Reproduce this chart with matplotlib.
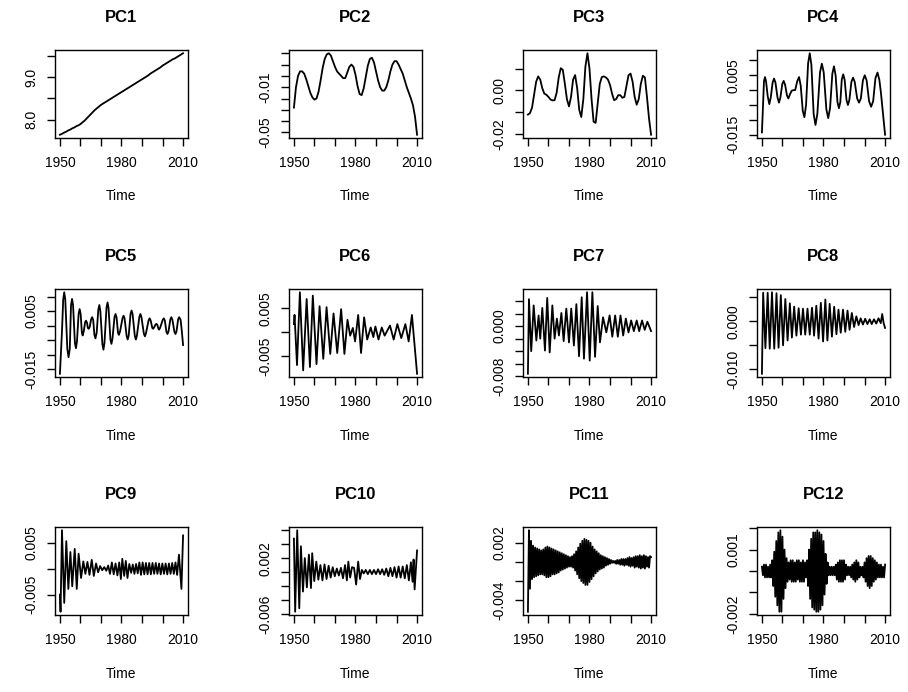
import numpy as np
import matplotlib
matplotlib.use("Agg")
import matplotlib.pyplot as plt

plt.rcParams["font.family"] = ["Liberation Sans", "DejaVu Sans"]

# annual series (1950..2010)
years = list(range(1950, 2011))
pc1 = [7.65, 7.67, 7.70, 7.72, 7.75, 7.77, 7.80, 7.82, 7.85, 7.87,
       7.90, 7.94, 7.98, 8.03, 8.08, 8.13, 8.18, 8.23, 8.27, 8.31,
       8.35, 8.38, 8.41, 8.44, 8.47, 8.50, 8.53, 8.56, 8.59, 8.62,
       8.65, 8.68, 8.71, 8.74, 8.77, 8.80, 8.83, 8.86, 8.89, 8.92,
       8.95, 8.98, 9.01, 9.04, 9.08, 9.11, 9.14, 9.17, 9.20, 9.23,
       9.27, 9.30, 9.33, 9.36, 9.39, 9.42, 9.44, 9.47, 9.50, 9.53, 9.56]
pc2 = [-0.028, -0.010, 0.000, 0.004, 0.004, 0.002, -0.003, -0.009, -0.015, -0.019,
       -0.021, -0.020, -0.014, -0.004, 0.007, 0.015, 0.019, 0.020, 0.018, 0.013,
       0.008, 0.004, 0.002, 0.000, -0.002, -0.002, 0.003, 0.008, 0.010, 0.008,
       0.001, -0.009, -0.016, -0.017, -0.011, -0.001, 0.009, 0.015, 0.016, 0.012,
       0.004, -0.004, -0.010, -0.013, -0.013, -0.010, -0.004, 0.004, 0.010, 0.013,
       0.013, 0.010, 0.006, 0.002, -0.004, -0.010, -0.015, -0.020, -0.026, -0.036, -0.052]
pc3 = [-0.0112, -0.0105, -0.0080, -0.0020, 0.0040, 0.0065, 0.0050, 0.0010, -0.0015, -0.0020,
       -0.0030, -0.0042, -0.0046, -0.0045, -0.0010, 0.0060, 0.0103, 0.0095, 0.0030, -0.0040,
       -0.0074, -0.0030, 0.0050, 0.0071, 0.0010, -0.0090, -0.0123, -0.0040, 0.0110, 0.0172,
       0.0100, -0.0040, -0.0145, -0.0150, -0.0060, 0.0030, 0.0062, 0.0065, 0.0060, 0.0050,
       0.0025, -0.0015, -0.0045, -0.0040, -0.0022, -0.0022, -0.0034, -0.0030, 0.0020, 0.0070,
       0.0078, 0.0040, -0.0030, -0.0066, -0.0040, 0.0030, 0.0068, 0.0060, -0.0030, -0.0130, -0.0205]

# points (time, value)
t4 = [1950.0, 1950.6, 1951.0, 1951.5, 1952.0, 1952.8, 1953.6, 1954.3, 1955.2, 1955.9,
      1956.6, 1957.6, 1958.3, 1959.0, 1959.9, 1960.6, 1961.3, 1962.2, 1962.9, 1963.6,
      1964.5, 1965.3, 1966.2, 1967.2, 1968.1, 1968.9, 1969.9, 1970.7, 1971.5, 1972.5,
      1973.3, 1974.1, 1975.2, 1976.1, 1977.0, 1978.3, 1979.2, 1980.1, 1981.4, 1982.3,
      1983.2, 1984.3, 1985.1, 1985.9, 1986.8, 1987.5, 1988.2, 1988.9, 1989.6, 1990.3,
      1991.2, 1991.9, 1992.6, 1993.6, 1994.4, 1995.2, 1996.4, 1997.3, 1998.2, 1999.2,
      2000.1, 2001.0, 2002.2, 2003.2, 2004.2, 2005.3, 2006.3, 2007.2, 2008.0, 2009.0, 2010.0]
pc4 = [-0.0142, -0.0040, 0.0030, 0.0044, 0.0030, -0.0020, -0.0047, -0.0025, 0.0025, 0.0039,
       0.0025, -0.0025, -0.0042, -0.0025, 0.0020, 0.0031, 0.0018, -0.0018, -0.0028, -0.0015,
       -0.0002, 0.0000, 0.0000, 0.0030, 0.0044, 0.0015, -0.0070, -0.0091, -0.0050, 0.0090,
       0.0124, 0.0085, -0.0080, -0.0117, -0.0080, 0.0060, 0.0089, 0.0060, -0.0065, -0.0094,
       -0.0060, 0.0055, 0.0080, 0.0050, -0.0040, -0.0061, -0.0040, 0.0035, 0.0053, 0.0035,
       -0.0033, -0.0050, -0.0033, 0.0028, 0.0042, 0.0028, -0.0028, -0.0042, -0.0028, 0.0033,
       0.0050, 0.0033, -0.0037, -0.0056, -0.0037, 0.0040, 0.0059, 0.0035, -0.0010, -0.0080, -0.0150]

t5 = [1950.0, 1951.0, 1951.6, 1952.1, 1952.6, 1953.6, 1954.2, 1954.8, 1955.4, 1955.9,
      1956.4, 1957.3, 1957.8, 1958.3, 1959.1, 1959.6, 1960.1, 1960.7, 1961.1, 1961.6,
      1962.3, 1962.7, 1963.2, 1963.6, 1964.0, 1964.5, 1965.2, 1965.7, 1966.2, 1966.8,
      1967.3, 1967.9, 1968.7, 1969.2, 1969.7, 1970.7, 1971.2, 1971.7, 1972.7, 1973.2,
      1973.7, 1974.6, 1975.1, 1975.6, 1976.6, 1977.1, 1977.6, 1978.3, 1978.7, 1979.3,
      1980.5, 1981.0, 1981.5, 1982.5, 1983.0, 1983.5, 1984.4, 1984.9, 1985.4, 1986.5,
      1987.0, 1987.5, 1988.7, 1989.2, 1989.7, 1990.9, 1991.4, 1991.9, 1993.2, 1993.7,
      1994.2, 1995.0, 1995.4, 1995.9, 1996.6, 1997.0, 1997.5, 1998.0, 1998.3, 1998.8,
      2000.1, 2000.6, 2001.1, 2001.9, 2002.4, 2002.9, 2003.8, 2004.3, 2004.8, 2005.8,
      2006.3, 2006.8, 2007.6, 2008.1, 2008.8, 2009.4, 2010.0]
pc5 = [-0.0166, -0.0020, 0.0090, 0.0115, 0.0090, -0.0080, -0.0109, -0.0080, 0.0070, 0.0092,
       0.0070, -0.0060, -0.0078, -0.0055, 0.0040, 0.0057, 0.0040, -0.0025, -0.0034, -0.0020,
       0.0012, 0.0017, 0.0010, -0.0008, -0.0011, -0.0005, 0.0022, 0.0029, 0.0020, -0.0032,
       -0.0044, -0.0025, 0.0055, 0.0071, 0.0050, -0.0065, -0.0083, -0.0060, 0.0062, 0.0080,
       0.0060, -0.0048, -0.0063, -0.0045, 0.0030, 0.0040, 0.0028, -0.0025, -0.0032, -0.0020,
       0.0026, 0.0034, 0.0025, -0.0036, -0.0048, -0.0035, 0.0040, 0.0052, 0.0040, -0.0036,
       -0.0048, -0.0035, 0.0030, 0.0040, 0.0030, -0.0028, -0.0037, -0.0027, 0.0018, 0.0025,
       0.0018, -0.0008, -0.0011, -0.0006, 0.0004, 0.0006, 0.0002, -0.0011, -0.0014, -0.0008,
       0.0020, 0.0025, 0.0018, -0.0022, -0.0029, -0.0020, 0.0022, 0.0029, 0.0020, -0.0022,
       -0.0029, -0.0020, 0.0022, 0.0029, 0.0020, -0.0020, -0.0067]

t6 = [1950.0, 1950.3, 1951.5, 1952.9, 1954.5, 1956.2, 1957.8, 1959.2, 1961.0, 1962.5,
      1964.3, 1965.9, 1967.7, 1969.3, 1971.1, 1973.0, 1974.6, 1976.1, 1977.4, 1978.7,
      1979.8, 1981.3, 1982.7, 1984.2, 1985.7, 1987.4, 1988.7, 1989.7, 1991.2, 1992.8,
      1994.2, 1996.8, 1998.6, 2000.4, 2002.3, 2004.3, 2005.9, 2007.5, 2010.0]
pc6 = [0.0017, 0.0036, -0.0068, 0.0083, -0.0079, 0.0069, -0.0072, 0.0076, -0.0066, 0.0054,
       -0.0055, 0.0052, -0.0045, 0.0039, -0.0043, 0.0048, -0.0045, 0.0026, -0.0007, 0.0009,
       -0.0019, 0.0036, -0.0043, 0.0031, -0.0015, 0.0010, -0.0010, 0.0012, -0.0015, 0.0010,
       -0.0007, 0.0014, -0.0015, 0.0017, -0.0012, 0.0017, -0.0019, 0.0036, -0.0086]

t7 = [1950.0, 1950.5, 1951.6, 1952.8, 1954.1, 1955.2, 1956.0, 1957.0, 1958.3, 1959.4,
      1960.6, 1961.9, 1963.0, 1964.1, 1965.1, 1966.3, 1967.4, 1968.7, 1970.0, 1971.1,
      1972.4, 1973.6, 1974.9, 1976.2, 1977.3, 1978.8, 1980.1, 1981.4, 1982.7, 1984.0,
      1985.1, 1986.6, 1988.2, 1989.8, 1991.1, 1992.5, 1993.8, 1995.1, 1996.4, 1997.7,
      1999.0, 2000.3, 2001.6, 2003.0, 2004.2, 2005.6, 2006.9, 2008.2, 2010.0]
pc7 = [-0.0076, 0.0043, -0.0040, 0.0033, -0.0023, 0.0017, -0.0020, 0.0029, -0.0039, 0.0045,
       -0.0042, 0.0033, -0.0020, 0.0012, -0.0015, 0.0021, -0.0024, 0.0028, -0.0026, 0.0028,
       -0.0031, 0.0035, -0.0048, 0.0046, -0.0052, 0.0054, -0.0055, 0.0054, -0.0049, 0.0032,
       -0.0026, 0.0014, -0.0010, 0.0017, -0.0017, 0.0017, -0.0017, 0.0017, -0.0015, 0.0012,
       -0.0010, 0.0009, -0.0008, 0.0009, -0.0008, 0.0009, -0.0006, 0.0007, -0.0008]

t8 = [1950.0, 1950.6, 1951.7, 1952.8, 1953.8, 1954.9, 1956.0, 1957.1, 1958.1, 1959.2,
      1960.3, 1961.4, 1962.5, 1963.6, 1964.6, 1965.7, 1966.8, 1967.9, 1969.0, 1970.0,
      1971.1, 1972.2, 1973.3, 1974.4, 1975.4, 1976.5, 1977.6, 1978.7, 1979.8, 1980.9,
      1981.9, 1983.0, 1984.1, 1985.2, 1986.3, 1987.3, 1988.4, 1989.5, 1990.6, 1991.7,
      1992.7, 1993.8, 1994.9, 1996.0, 1997.1, 1998.1, 1999.2, 2000.3, 2001.4, 2002.5,
      2003.5, 2004.6, 2005.7, 2006.8, 2007.9, 2008.6, 2009.3, 2010.0]
pc8 = [-0.0109, 0.0059, -0.0056, 0.0059, -0.0057, 0.0060, -0.0057, 0.0058, -0.0055, 0.0054,
       -0.0050, 0.0046, -0.0040, 0.0037, -0.0034, 0.0030, -0.0030, 0.0027, -0.0028, 0.0026,
       -0.0028, 0.0026, -0.0028, 0.0028, -0.0030, 0.0032, -0.0036, 0.0038, -0.0042, 0.0045,
       -0.0040, 0.0036, -0.0032, 0.0030, -0.0027, 0.0024, -0.0024, 0.0024, -0.0022, 0.0022,
       -0.0018, 0.0017, -0.0012, 0.0010, -0.0008, 0.0006, -0.0007, 0.0005, -0.0006, 0.0004,
       -0.0006, 0.0004, -0.0005, 0.0006, -0.0004, 0.0015, -0.0004, -0.0014]

t9 = [1950.0, 1950.3, 1951.0, 1952.1, 1953.1, 1954.1, 1955.1, 1956.0, 1957.2, 1958.2,
      1959.1, 1960.3, 1961.4, 1962.4, 1963.4, 1964.4, 1965.5, 1966.5, 1967.6, 1968.6,
      1969.6, 1970.6, 1971.6, 1972.6, 1973.5, 1974.4, 1975.3, 1976.2, 1977.1, 1978.0,
      1978.9, 1979.7, 1980.4, 1981.3, 1982.1, 1982.9, 1983.8, 1984.7, 1985.5, 1986.3,
      1987.1, 1987.9, 1988.7, 1989.5, 1990.3, 1991.1, 1991.9, 1992.7, 1993.5, 1994.3,
      1995.1, 1995.9, 1996.7, 1997.5, 1998.3, 1999.1, 1999.9, 2000.7, 2001.5, 2002.3,
      2003.1, 2003.9, 2004.7, 2005.5, 2006.3, 2007.1, 2008.0, 2009.2, 2010.0]
pc9 = [-0.0050, -0.0083, 0.0074, -0.0066, 0.0053, -0.0039, 0.0032, -0.0034, 0.0038, -0.0039,
       0.0029, -0.0018, 0.0014, -0.0010, 0.0013, -0.0012, 0.0017, -0.0014, 0.0010, -0.0007,
       0.0005, -0.0003, 0.0003, -0.0004, 0.0006, -0.0010, 0.0012, -0.0011, 0.0010, -0.0013,
       0.0012, -0.0020, 0.0019, -0.0014, 0.0015, -0.0018, 0.0009, -0.0008, 0.0008, -0.0010,
       0.0009, -0.0009, 0.0012, -0.0012, 0.0012, -0.0011, 0.0011, -0.0011, 0.0011, -0.0011,
       0.0011, -0.0010, 0.0011, -0.0010, 0.0010, -0.0011, 0.0010, -0.0010, 0.0010, -0.0011,
       0.0010, -0.0010, 0.0011, -0.0010, 0.0012, -0.0012, 0.0027, -0.0039, 0.0064]

t10 = [1950.0, 1950.6, 1951.6, 1952.6, 1953.4, 1954.4, 1955.3, 1956.3, 1957.3, 1958.3,
       1958.9, 1959.9, 1960.9, 1961.9, 1962.9, 1963.9, 1964.9, 1965.9, 1966.9, 1967.9,
       1968.9, 1969.9, 1970.9, 1971.9, 1972.9, 1973.9, 1974.9, 1975.8, 1976.5, 1977.4,
       1978.3, 1979.3, 1980.3, 1981.3, 1982.2, 1983.1, 1984.0, 1985.0, 1986.0, 1987.0,
       1988.0, 1989.0, 1990.0, 1991.0, 1992.0, 1993.0, 1994.0, 1995.0, 1996.0, 1997.0,
       1998.0, 1999.0, 2000.0, 2001.0, 2002.0, 2003.0, 2004.0, 2005.0, 2006.0, 2007.0,
       2007.8, 2008.3, 2008.8, 2010.0]
pc10 = [0.0048, -0.0057, 0.0060, -0.0052, 0.0037, -0.0028, 0.0020, -0.0022, 0.0025, -0.0023,
        0.0027, -0.0013, 0.0015, -0.0011, 0.0010, -0.0012, 0.0011, -0.0010, 0.0009, -0.0008,
        0.0007, -0.0006, 0.0005, -0.0005, 0.0006, -0.0009, 0.0010, -0.0012, 0.0015, -0.0008,
        0.0007, 0.0006, -0.0018, 0.0015, -0.0010, 0.0003, -0.0002, 0.0003, -0.0003, 0.0003,
        -0.0003, 0.0003, -0.0003, 0.0004, -0.0003, 0.0004, -0.0004, 0.0005, -0.0006, 0.0006,
        -0.0006, 0.0007, -0.0008, 0.0008, -0.0008, 0.0008, -0.0009, 0.0010, -0.0012, 0.0014,
        -0.0014, 0.0018, -0.0025, 0.0031]

# half-year series
halfyears = [1950 + 0.5 * i for i in range(121)]
pc11 = [-0.0052, 0.0033, -0.0028, 0.0022, -0.0018, 0.0017, -0.0016, 0.0015, -0.0015, 0.0014,
        -0.0014, 0.0013, -0.0013, 0.0012, -0.0013, 0.0013, -0.0014, 0.0015, -0.0016, 0.0016,
        -0.0016, 0.0015, -0.0015, 0.0014, -0.0013, 0.0013, -0.0013, 0.0012, -0.0012, 0.0011,
        -0.0011, 0.0010, -0.0009, 0.0009, -0.0008, 0.0008, -0.0007, 0.0007, -0.0006, 0.0006,
        -0.0005, 0.0005, -0.0005, 0.0006, -0.0006, 0.0008, -0.0009, 0.0011, -0.0013, 0.0015,
        -0.0017, 0.0019, -0.0020, 0.0022, -0.0022, 0.0024, -0.0024, 0.0023, -0.0024, 0.0022,
        -0.0021, 0.0020, -0.0018, 0.0016, -0.0015, 0.0013, -0.0012, 0.0011, -0.0010, 0.0009,
        -0.0008, 0.0007, -0.0007, 0.0006, -0.0006, 0.0005, -0.0004, 0.0004, -0.0003, 0.0003,
        -0.0002, 0.0002, -0.0001, 0.0001, -0.0001, 0.0001, -0.0002, 0.0002, -0.0002, 0.0002,
        -0.0003, 0.0003, -0.0003, 0.0003, -0.0004, 0.0003, -0.0003, 0.0004, -0.0004, 0.0005,
        -0.0005, 0.0004, -0.0004, 0.0005, -0.0006, 0.0006, -0.0005, 0.0006, -0.0006, 0.0007,
        -0.0007, 0.0006, -0.0006, 0.0007, -0.0007, 0.0006, -0.0005, 0.0005, -0.0006, 0.0006,
        0.0005]
pc12 = [0.0002, -0.0002, 0.0003, -0.0003, 0.0003, -0.0003, 0.0002, -0.0003, 0.0003, -0.0003,
        0.0005, -0.0007, 0.0009, -0.0012, 0.0014, -0.0016, 0.0018, -0.0019, 0.0019, -0.0019,
        0.0016, -0.0013, 0.0010, -0.0008, 0.0006, -0.0005, 0.0004, -0.0004, 0.0005, -0.0005,
        0.0005, -0.0005, 0.0004, -0.0005, 0.0005, -0.0004, 0.0005, -0.0005, 0.0004, -0.0005,
        0.0005, -0.0005, 0.0004, -0.0003, 0.0005, -0.0007, 0.0010, -0.0013, 0.0015, -0.0017,
        0.0018, -0.0018, 0.0018, -0.0019, 0.0019, -0.0019, 0.0018, -0.0018, 0.0017, -0.0016,
        0.0014, -0.0011, 0.0008, -0.0006, 0.0004, -0.0002, 0.0002, -0.0002, 0.0002, -0.0002,
        0.0002, -0.0002, 0.0003, -0.0004, 0.0004, -0.0005, 0.0005, -0.0005, 0.0005, -0.0005,
        0.0005, -0.0004, 0.0003, -0.0002, 0.0002, -0.0002, 0.0002, -0.0003, 0.0003, -0.0004,
        0.0004, -0.0005, 0.0005, -0.0004, 0.0004, -0.0003, 0.0002, -0.0002, 0.0002, -0.0003,
        0.0004, -0.0005, 0.0006, -0.0007, 0.0007, -0.0008, 0.0007, -0.0007, 0.0006, -0.0005,
        0.0005, -0.0004, 0.0004, -0.0003, 0.0003, -0.0003, 0.0003, -0.0003, 0.0002, -0.0003,
        0.0003]

titles = ["PC1", "PC2", "PC3", "PC4", "PC5", "PC6", "PC7", "PC8", "PC9", "PC10", "PC11", "PC12"]
series = [(years, pc1), (years, pc2), (years, pc3), (t4, pc4), (t5, pc5), (t6, pc6),
          (t7, pc7), (t8, pc8), (t9, pc9), (t10, pc10), (halfyears, pc11), (halfyears, pc12)]

# y ticks and which of them carry a label
yticks = [
    ([8.0, 8.5, 9.0, 9.5], ["8.0", "9.0"]),
    ([-0.05, -0.04, -0.03, -0.02, -0.01, 0.0, 0.01, 0.02], ["-0.05", "-0.01"]),
    ([-0.02, -0.01, 0.0, 0.01], ["-0.02", "0.00"]),
    ([-0.015, -0.01, -0.005, 0.0, 0.005, 0.01], ["-0.015", "0.005"]),
    ([-0.015, -0.01, -0.005, 0.0, 0.005, 0.01], ["-0.015", "0.005"]),
    ([-0.005, 0.0, 0.005], ["-0.005", "0.005"]),
    ([-0.008, -0.006, -0.004, -0.002, 0.0, 0.002, 0.004], ["-0.008", "0.000"]),
    ([-0.01, -0.005, 0.0, 0.005], ["-0.010", "0.000"]),
    ([-0.005, 0.0, 0.005], ["-0.005", "0.005"]),
    ([-0.006, -0.004, -0.002, 0.0, 0.002, 0.004, 0.006], ["-0.006", "0.002"]),
    ([-0.004, -0.002, 0.0, 0.002], ["-0.004", "0.002"]),
    ([-0.002, -0.001, 0.0, 0.001, 0.002], ["-0.002", "0.001"]),
]

W, H = 908, 692
fig = plt.figure(figsize=(W / 100, H / 100), dpi=100)
lefts = [55, 289, 523, 757]
tops = [50, 289, 527]
bw, bh = 133, 88

for i, (title, (t, v), (yt, ylab)) in enumerate(zip(titles, series, yticks)):
    r, c = divmod(i, 4)
    ax = fig.add_axes([lefts[c] / W, 1 - (tops[r] + bh) / H, bw / W, bh / H])
    ax.plot(t, v, color="black", lw=1.3, solid_joinstyle="round")
    ax.set_xlim(1950 - 2.4, 2010 + 2.4)
    ax.margins(y=0.04)
    ax.set_xticks(range(1950, 2011, 10))
    ax.set_xticklabels(["1950", "", "", "1980", "", "", "2010"])
    ax.set_yticks(yt)
    labs = []
    for y in yt:
        s = [l for l in ylab if abs(float(l) - y) < 1e-9]
        labs.append(s[0] if s else "")
    ax.set_yticklabels(labs, rotation=90, va="center")
    ax.tick_params(length=6, width=1, labelsize=10, direction="out")
    ax.tick_params(axis="x", pad=7)
    ax.tick_params(axis="y", pad=6)
    for sp in ax.spines.values():
        sp.set_linewidth(1)
    ax.set_title(title, fontsize=12, fontweight="bold", pad=20)
    ax.set_xlabel("Time", fontsize=10, labelpad=14)

fig.savefig("out.png", dpi=100)
